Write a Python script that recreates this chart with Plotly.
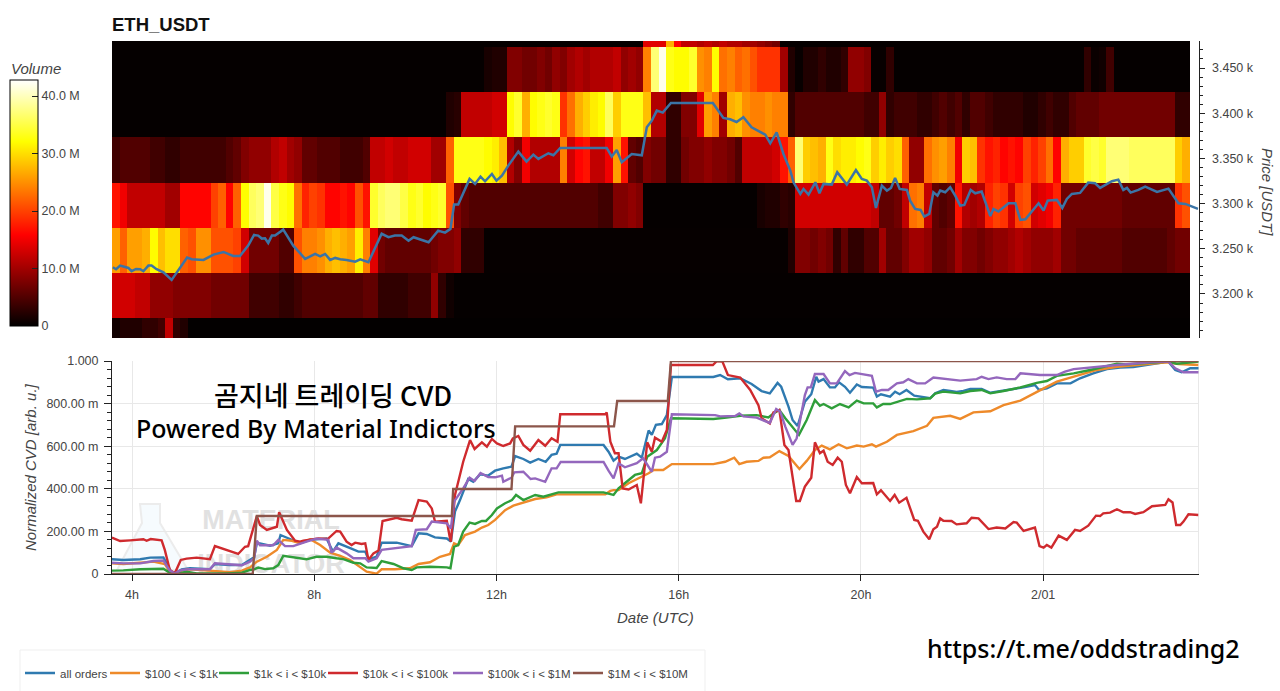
import plotly.graph_objects as go

FIG_W, FIG_H = 1280, 691

# ---- tick labels ----
date_tick_hours = [4, 8, 12, 16, 20, 24]
date_tick_labels = ["4h", "8h", "12h", "16h", "20h", "2/01"]
price_ticks = [3200, 3250, 3300, 3350, 3400, 3450]
price_tick_labels = ["3.200 k", "3.250 k", "3.300 k", "3.350 k", "3.400 k", "3.450 k"]
cvd_ticks = [0, 0.2, 0.4, 0.6, 0.8, 1.0]
cvd_tick_labels = ["0", "200.00 m", "400.00 m", "600.00 m", "800.00 m", "1.000"]
vol_ticks = [0, 10, 20, 30, 40]
vol_tick_labels = ["0", "10.0 M", "20.0 M", "30.0 M", "40.0 M"]

# ---- volume heat-map rows (millions), 10-minute columns ----
price_bins = [3150, 3200, 3250, 3300, 3350, 3400, 3450, 3500]
vol_3500 = [.3]*70 + [14,14,14,27,16,12,12,11,12,11,12,11,11,10,10,9,8,7] + [.3]*54
vol_3450 = [.3]*49 + [1.5,
  2,2,8,8,7,7,8,7,9,8,
  10,11,10,11,11,11,12,9,10,9,
  24,37,42,33,32,32,34,25,24,32,
  23,24,22,23,21,19,19,19,10,2,
  .5,2,2,3,2,2,3,9,9,8,
  .5,.5,3] + [.3]*25 + [3,.6,1,4] + [.3]*10
vol_3400 = [.3]*44 + [2,2.5,12,12,12,12,
  13,13,32,34,27,32,33,34,33,19,
  23,27,29,31,32,36,29,33,33,33,
  28,11,11,3,3,8,8,14,26,24,
  10,27,28,25,24,24,25,24,24,3,
  5,5,5,5,5,5,5,5,5,4,
  4,9,3,4,4,4,3,3,4,5,
  4,5,3,5,5,4,3,3,3,3,
  2,2,3,4,3,3,5,6,6,6,
  7,7,7,7,7,7,7,7,7,7,
  3,3]
vol_3350 = [4,5,5,5,5,4,4,3,3,4,
  4,4,4,4,4,5,6,8,9,9,
  9,11,12,10,9,6,6,5,5,5,
  4,4,4,5,12,12,13,12,12,13,
  13,13,10,10,22,33,33,33,33,32,
  31,28,11,8,15,11,11,11,11,24,
  13,16,17,12,12,15,26,17,6,5,
  8,7,7,3,3,7,8,8,9,8,
  8,7,5,12,12,12,12,13,17,22,
  37,29,28,27,33,30,31,31,32,33,
  29,31,29,30,22,9,9,23,25,26,
  24,15,29,28,19,17,18,16,17,16,
  20,18,20,23,16,27,29,29,34,35,
  34,37,37,37,36,36,36,36,36,36,
  29,27]
vol_3300 = [17,15,12,12,12,12,12,10,10,16,
  16,16,16,20,22,16,22,32,36,37,
  42,35,33,32,23,18,20,19,16,16,
  17,16,21,17,34,36,37,37,35,33,
  34,32,33,34,21,8,6,5,5,5,
  5,5,5,5,5,5,5,5,5,5,
  5,5,5,5,4,4,8,8,9,8,
  .3,.3,.3,.3,.3,.3,.3,.3,.3,.3,
  .3,.3,.3,.3,.3,1.5,2,2,3,2.5,
  13,13,13,13,13,13,13,13,13,13,
  12,6,6,7,12,23,24,12,6,5,
  6,17,11,10,11,18,20,19,13,20,
  21,13,14,15,18,7,7,7,7,7,
  7,7,7,6,6,6,6,6,6,6,
  19,21]
vol_3250 = [26,22,26,26,27,32,28,30,30,22,
  21,25,25,21,21,21,20,13,7,7,
  7,7,5,5,21,24,24,25,27,28,
  27,26,31,24,14,7,6,6,6,6,
  6,6,7,8,8,9,3,3,3,.4] + [.4]*39 + [2,
  8,8,7,8,7,3,6,3,3,5,
  5,10,6,6,8,10,10,9,6,6,
  7,10,8,8,7,8,9,9,10,11,
  10,9,9,9,10,7,7,6,6,6,
  6,6,6,5,5,5,5,5,5,6,
  7,7]
vol_3200 = [13,13,13,12,12,9,9,9,8,8,
  8,8,8,7,7,7,7,7,4,4,
  4,4,3,3,4,5,5,5,5,5,
  5,5,5,6,6,3,3,3,3,4,
  4,4,9,3,1] + [.3]*97
vol_3150 = [1,2,2,2,3,3,4,12,3,2] + [.2]*132

# ---- price line ----
price_hours = [3.58,3.65,3.74,3.92,3.99,4.09,4.18,4.25,4.36,4.43,4.54,4.69,4.87,5.02,5.21,5.31,5.57,5.79,6.01,6.22,6.37,6.55,6.68,6.77,6.85,6.92,6.99,7.07,7.14,7.32,7.54,7.80,8.02,8.13,8.24,8.35,8.46,8.57,8.71,8.90,9.01,9.19,9.33,9.48,9.63,9.77,9.92,10.07,10.18,10.51,
  10.72,10.87,10.99,11.07,11.16,11.41,11.53,11.65,11.75,11.90,12.0,12.12,12.26,12.48,12.66,12.81,12.92,13.14,13.25,13.40,14.42,14.53,14.64,14.75,14.97,15.19,15.30,15.41,15.52,15.65,15.83,16.75,16.98,17.13,17.27,17.42,17.60,17.79,17.90,18.01,18.15,18.30,18.45,18.52,18.67,18.74,18.85,19.0,19.09,19.18,19.36,19.48,19.69,19.89,
  20.02,20.13,20.24,20.33,20.46,20.57,20.66,20.75,20.85,21.01,21.08,21.19,21.31,21.39,21.50,21.59,21.68,21.74,21.85,21.96,22.07,22.18,22.27,22.41,22.51,22.65,22.84,22.91,23.02,23.24,23.39,23.50,23.61,23.90,24.01,24.10,24.30,24.42,24.52,24.63,24.81,24.99,25.14,25.25,25.51,25.65,25.76,25.84,25.92,26.09,26.24,26.50,26.75,26.97,27.12,27.40]
price_usdt = [3229.6,3227.4,3231.4,3228.8,3225.2,3227.7,3227.4,3225.2,3231.4,3231.4,3227.4,3224,3215.6,3225.9,3240.3,3238.4,3237.7,3243.6,3246.5,3242.1,3242.1,3253.5,3265.3,3264.6,3261.3,3261.7,3256.5,3264.6,3264.6,3271.2,3253.5,3238.8,3244.3,3241.7,3244.3,3237.7,3239.9,3238.4,3237.7,3235.8,3238.4,3235.1,3250.1,3266.6,3262.8,3264.6,3264.6,3259,3262.8,3257.2,
  3270.1,3267.9,3272,3298.9,3298.9,3327.3,3321.8,3329.9,3324.7,3332.8,3325.4,3331,3342,3357.5,3346.5,3354.2,3349.4,3355.7,3353.5,3361.6,3361.6,3352,3359.4,3345.7,3354.9,3353.5,3384.4,3391.8,3402.9,3400.7,3411.3,3411.3,3394.8,3393.3,3390.3,3395.5,3384.4,3378.9,3376.3,3366.7,3378.9,3354.9,3336.5,3323.6,3310.7,3316.2,3310,3323.6,3311.4,3321.8,3321,3334.7,3321,3337.2,
  3327.3,3325.4,3318.1,3295.2,3319.9,3314.4,3317.3,3328.4,3316.2,3315.1,3303.3,3294.1,3293,3285.6,3288.6,3312.5,3308.8,3314.4,3312.5,3318.1,3308.8,3297.8,3298.5,3315.1,3311.4,3313.3,3286.3,3294.1,3291.2,3300.4,3300.4,3281.9,3282.7,3300.4,3292.3,3303.3,3304.1,3295.2,3305.2,3310.7,3311.8,3323.2,3322.5,3317.3,3324.7,3326.5,3315.1,3317.3,3312.2,3315.1,3318.8,3312.9,3316.6,3300.4,3299.6,3294.1]

# ---- normalized CVD lines ----
all_hours = [3.56,3.81,4.18,4.40,4.69,4.80,4.87,4.94,5.09,5.27,5.71,5.82,6.15,6.41,6.59,6.68,6.74,6.81,7.03,7.21,7.26,7.47,7.69,7.91,8.27,8.41,8.53,8.79,8.97,9.12,9.19,9.37,9.48,9.81,10.14,10.29,10.47,10.65,10.91,11.0,11.09,11.20,11.38,11.49,11.64,11.82,11.97,12.15,12.33,12.41,12.59,12.74,12.92,13.08,13.21,13.32,13.40,14.35,14.46,14.57,14.68,14.82,15.08,15.19,15.34,15.41,15.50,15.63,15.74,15.85,16.76,16.91,17.08,17.35,17.60,17.82,18.0,18.17,18.25,18.41,18.50,18.61,18.77,18.91,19.02,19.07,19.18,19.32,19.43,19.52,19.65,19.76,19.91,20.02,20.27,20.35,20.44,20.64,20.75,20.85,21.0,21.17,21.30,21.52,21.63,21.81,21.96,22.1,22.25,22.40,22.65,22.84,23.57,23.82,23.91,24.08,24.3,24.6,24.81,25.10,25.40,25.69,25.98,26.35,26.75,26.90,27.04,27.23,27.42]
all_vals = [.069,.066,.069,.077,.078,.034,.006,.003,.022,.027,.022,.047,.042,.042,.066,.078,.144,.144,.133,.144,.183,.163,.144,.160,.167,.105,.144,.121,.105,.105,.069,.081,.147,.147,.131,.191,.188,.172,.167,.152,.293,.347,.446,.433,.468,.462,.485,.496,.504,.554,.540,.523,.540,.527,.559,.565,.606,.606,.574,.532,.551,.540,.565,.546,.674,.653,.700,.704,.746,.925,.925,.934,.914,.919,.892,.859,.848,.897,.879,.786,.723,.695,.809,.844,.926,.903,.915,.876,.876,.900,.879,.851,.890,.878,.875,.833,.844,.833,.856,.844,.864,.837,.833,.825,.848,.864,.859,.855,.860,.869,.869,.851,.876,.887,.864,.872,.895,.895,.919,.942,.962,.969,.972,.984,.997,.958,.947,.966,.966]

orange_hours = [3.56,3.81,4.18,4.47,4.72,4.83,4.94,5.09,5.27,5.71,6.15,6.41,6.59,6.74,6.96,7.18,7.32,7.51,7.69,7.91,8.13,8.35,8.57,8.79,8.97,9.15,9.37,9.48,9.77,10.10,10.29,10.54,10.76,10.98,11.07,11.16,11.31,11.53,11.68,11.82,11.97,12.19,12.37,12.66,12.85,13.10,13.32,14.39,14.50,14.57,14.68,14.90,15.15,15.34,15.45,15.66,15.85,16.76,17.02,17.22,17.33,17.49,17.75,17.86,18.0,18.21,18.41,18.65,18.81,18.99,19.14,19.32,19.51,19.69,19.91,20.06,20.24,20.33,20.57,20.79,21.15,21.45,21.59,21.96,22.18,22.47,22.84,23.13,23.50,23.79,23.97,24.30,24.74,25.18,25.62,26.06,26.72,26.97,27.41]
orange_vals = [.050,.047,.053,.058,.047,.011,.002,.016,.022,.016,.009,.016,.031,.058,.081,.113,.160,.156,.144,.163,.136,.100,.085,.066,.038,.011,.002,.022,.022,.027,.047,.055,.081,.094,.144,.136,.183,.199,.218,.230,.254,.300,.321,.340,.352,.360,.374,.374,.390,.394,.394,.426,.452,.473,.488,.488,.516,.516,.527,.546,.516,.527,.531,.546,.548,.577,.554,.493,.531,.582,.603,.585,.609,.590,.603,.598,.609,.598,.621,.653,.671,.696,.733,.743,.728,.759,.764,.793,.814,.848,.867,.903,.930,.958,.973,.981,.994,.986,.981]

green_hours = [3.56,3.81,4.18,4.69,4.83,4.98,5.20,5.42,6.08,6.41,6.59,6.68,6.77,6.92,7.10,7.21,7.32,7.62,7.83,8.05,8.27,8.49,8.64,8.86,9.01,9.15,9.37,9.48,9.74,9.96,10.14,10.25,10.54,10.91,10.99,11.07,11.16,11.27,11.41,11.53,11.68,11.77,11.90,12.01,12.19,12.34,12.43,12.59,12.85,13.03,13.21,13.36,14.35,14.57,14.68,14.86,15.04,15.19,15.31,15.52,15.70,15.83,16.76,17.05,17.35,17.71,17.97,18.08,18.21,18.34,18.64,18.81,18.99,19.10,19.18,19.36,19.54,19.73,19.91,20.06,20.27,20.35,20.49,20.64,20.79,21.01,21.23,21.52,21.63,21.81,22.18,22.40,22.65,22.84,23.13,23.50,23.86,24.08,24.30,24.67,25.03,25.40,25.62,25.84,26.28,26.75,26.93,27.42]
green_vals = [.016,.017,.022,.025,.006,.002,.011,.003,.003,.006,.019,.022,.030,.023,.027,.042,.085,.074,.069,.081,.081,.074,.070,.053,.050,.031,.028,.061,.047,.027,.019,.031,.034,.031,.027,.128,.136,.199,.241,.235,.249,.249,.277,.308,.332,.347,.371,.347,.371,.363,.374,.383,.383,.371,.402,.433,.465,.473,.551,.582,.637,.731,.728,.734,.743,.746,.735,.754,.770,.731,.653,.723,.817,.790,.798,.778,.798,.782,.814,.801,.801,.782,.798,.798,.809,.822,.820,.825,.847,.856,.848,.859,.864,.848,.859,.876,.897,.906,.930,.942,.958,.975,.987,.984,.989,.997,.987,.997]

red_hours = [3.56,3.74,3.96,4.25,4.32,4.41,4.65,4.72,4.83,4.94,5.07,5.20,5.42,5.71,5.82,6.08,6.33,6.48,6.55,6.74,6.81,6.96,7.18,7.23,7.40,7.58,7.69,7.76,7.91,8.09,8.30,8.49,8.57,8.71,8.82,8.90,9.04,9.12,9.19,9.30,9.41,9.50,9.81,9.92,10.14,10.29,10.47,10.58,10.65,10.91,10.98,11.0,11.09,11.27,11.42,11.52,11.68,11.79,11.90,12.01,12.15,12.30,12.36,12.48,12.59,12.74,12.92,13.07,13.21,13.34,13.40,14.39,14.42,14.50,14.60,14.68,14.77,14.90,15.08,15.17,15.31,15.41,15.48,15.63,15.74,15.83,16.75,16.84,16.96,17.08,17.35,17.57,17.75,17.82,18.0,18.08,18.21,18.32,18.41,18.58,18.66,18.77,18.91,18.99,19.10,19.18,19.27,19.38,19.49,19.58,19.67,19.76,19.91,20.02,20.27,20.35,20.44,20.64,20.74,20.84,21.0,21.17,21.25,21.37,21.50,21.59,21.67,21.74,21.81,21.99,22.10,22.32,22.43,22.58,22.80,22.98,23.17,23.35,23.42,23.57,23.82,23.92,24.01,24.08,24.18,24.34,24.52,24.70,24.81,24.99,25.16,25.25,25.32,25.47,25.62,25.76,25.91,26.02,26.20,26.39,26.68,26.75,26.84,26.92,27.01,27.08,27.19,27.41]
red_vals = [.171,.155,.158,.163,.156,.164,.158,.113,.019,.003,.066,.072,.077,.069,.131,.113,.094,.128,.131,.272,.230,.207,.222,.290,.207,.156,.152,.156,.160,.167,.165,.202,.199,.152,.136,.147,.141,.144,.066,.097,.110,.249,.264,.257,.250,.347,.340,.308,.246,.250,.167,.152,.371,.527,.629,.587,.618,.598,.634,.613,.601,.613,.637,.648,.606,.579,.629,.602,.637,.621,.750,.750,.759,.621,.567,.567,.402,.397,.418,.332,.618,.574,.640,.621,.676,.981,.981,1.0,.997,.934,.922,.864,.793,.731,.707,.759,.770,.606,.582,.343,.343,.410,.452,.618,.567,.579,.527,.512,.546,.527,.418,.379,.455,.426,.427,.374,.393,.343,.371,.335,.358,.254,.250,.199,.163,.210,.222,.261,.250,.249,.233,.238,.264,.261,.211,.218,.214,.244,.241,.202,.218,.131,.124,.136,.124,.180,.160,.207,.202,.227,.274,.272,.285,.288,.304,.290,.290,.282,.290,.318,.324,.351,.336,.230,.230,.246,.280,.277]

purple_hours = [3.56,3.81,4.18,4.47,4.69,4.83,4.94,5.09,5.27,5.71,5.82,6.08,6.41,6.59,6.68,6.74,6.81,7.10,7.21,7.36,7.54,7.83,8.05,8.31,8.38,8.49,8.71,8.86,9.12,9.19,9.37,9.48,10.14,10.23,10.47,10.58,10.91,11.0,11.07,11.27,11.41,11.52,11.65,11.82,11.97,12.12,12.15,12.33,12.39,12.59,12.75,12.85,13.07,13.21,13.32,13.41,14.35,14.46,14.57,14.68,14.82,15.08,15.22,15.41,15.48,15.59,15.74,15.85,16.80,16.91,17.24,17.33,17.42,17.71,18.0,18.14,18.23,18.34,18.50,18.59,18.77,18.83,18.90,18.99,19.18,19.32,19.47,19.65,19.75,19.87,20.06,20.24,20.33,20.46,20.60,20.79,20.93,21.04,21.23,21.41,21.59,21.96,22.18,22.54,22.65,22.80,22.98,23.20,23.39,23.50,23.93,24.30,24.48,24.67,25.03,25.32,25.62,26.35,26.75,26.90,27.08,27.42]
purple_vals = [.053,.050,.050,.061,.063,.016,.003,.019,.023,.022,.050,.045,.041,.058,.074,.156,.135,.135,.160,.131,.131,.152,.166,.160,.100,.124,.097,.074,.074,.058,.074,.113,.131,.207,.210,.246,.238,.214,.340,.402,.452,.437,.474,.455,.454,.462,.433,.452,.477,.480,.446,.449,.433,.496,.496,.526,.526,.485,.449,.520,.501,.520,.543,.480,.546,.551,.574,.750,.746,.740,.742,.754,.740,.734,.709,.775,.762,.692,.606,.637,.840,.876,.876,.939,.939,.895,.895,.953,.934,.944,.939,.931,.856,.864,.864,.895,.900,.915,.895,.895,.922,.915,.908,.915,.926,.915,.923,.915,.915,.942,.934,.934,.950,.962,.970,.973,.981,.994,.997,.966,.947,.947]

brown_hours = [3.56,6.65,6.74,11.02,11.05,12.33,12.41,14.58,14.65,15.76,15.83,27.41]
brown_vals = [0,0,.272,.272,.399,.399,.693,.693,.812,.812,1.0,1.0]

series = [
    ("all orders", all_hours, all_vals, "#2f7ab0"),
    ("$100 < i < $1k", orange_hours, orange_vals, "#ee8a2a"),
    ("$1k < i < $10k", green_hours, green_vals, "#2f9e3a"),
    ("$10k < i < $100k", red_hours, red_vals, "#cf2a2e"),
    ("$100k < i < $1M", purple_hours, purple_vals, "#9467bd"),
    ("$1M < i < $10M", brown_hours, brown_vals, "#8c564b"),
]
legend_text_starts = [60, 145, 254, 363, 488, 608]

# ---- layout helpers (pixel geometry of the page) ----
def px(x): return x / FIG_W
def py(y): return 1 - y / FIG_H

HOUR_RANGE = [3.561, 27.41]
TICK = "#444444"
FONT = "Liberation Sans"

fig = go.Figure()
fig.add_trace(go.Heatmap(
    z=[vol_3150, vol_3200, vol_3250, vol_3300, vol_3350, vol_3400, vol_3450, vol_3500],
    x0=3.561 + 1 / 12, dx=1 / 6, y=[b - 1.5 for b in price_bins],
    xaxis="x2", yaxis="y2", zmin=0, zmax=42.8, hoverinfo="skip",
    colorscale=[[0, "#000000"], [0.37, "#ff0000"], [0.75, "#ffff00"], [1, "#ffffff"]],
    colorbar=dict(
        thicknessmode="pixels", thickness=28, lenmode="pixels", len=246,
        x=px(10), xanchor="left", xpad=0, y=py(326), yanchor="bottom", ypad=0,
        outlinecolor="black", outlinewidth=1, tickmode="array",
        tickvals=vol_ticks, ticktext=vol_tick_labels, ticks="inside", ticklen=6,
        tickcolor="#222", tickfont=dict(family=FONT, size=12.5, color=TICK),
    ),
))
fig.add_trace(go.Scatter(x=price_hours, y=price_usdt, mode="lines", xaxis="x2", yaxis="y2",
                         line=dict(color="#3b74a6", width=2.5), showlegend=False))
fig.add_trace(go.Scatter(x=[7.05, 7.05], y=[.244, .035], mode="text", text=["MATERIAL", "INDICATOR"],
                         textposition="middle center", showlegend=False, hoverinfo="skip",
                         textfont=dict(family=FONT, size=27, color="#e1e1e1", weight="bold")))
legend_layouts = {}
for i, (name, h, v, c) in enumerate(series):
    key = "legend" if i == 0 else f"legend{i + 1}"
    fig.add_trace(go.Scatter(x=h, y=v, mode="lines", name=name, legend=key, line=dict(color=c, width=2.4)))
    legend_layouts[key] = dict(x=px(legend_text_starts[i] - 40), xanchor="left", y=py(673), yanchor="middle",
                               font=dict(family=FONT, size=11.5, color=TICK), bgcolor="rgba(0,0,0,0)", itemwidth=30)

axis_font = dict(family=FONT, size=12.5, color=TICK)
fig.update_layout(
    width=FIG_W, height=FIG_H, margin=dict(l=0, r=0, t=0, b=0, autoexpand=False),
    paper_bgcolor="white", plot_bgcolor="white", font=dict(family=FONT),
    xaxis=dict(domain=[px(112), px(1198.5)], range=HOUR_RANGE, anchor="y", tickmode="array",
               tickvals=date_tick_hours, ticktext=date_tick_labels, ticks="outside", ticklen=6,
               tickcolor="#222", showline=True, linecolor="#222", linewidth=1, gridcolor="#e8e8e8",
               gridwidth=1, tickfont=axis_font, zeroline=False, ticklabelstandoff=3),
    yaxis=dict(domain=[py(574), py(361)], range=[0, 1], anchor="x", tickmode="array",
               tickvals=cvd_ticks, ticktext=cvd_tick_labels, ticks="outside", ticklen=7, tickcolor="#222",
               showline=True, linecolor="#222", linewidth=1, gridcolor="#e8e8e8", tickfont=axis_font,
               zeroline=False, ticklabelstandoff=3,
               minor=dict(dtick=0.04, tick0=0, ticks="outside", ticklen=4, tickcolor="#222", showgrid=False)),
    xaxis2=dict(domain=[px(112), px(1198.5)], range=HOUR_RANGE, anchor="y2", visible=False),
    yaxis2=dict(domain=[py(338), py(41)], range=[3151.3, 3479.9], anchor="x2", side="right", tickmode="array",
                tickvals=price_ticks, ticktext=price_tick_labels, ticks="outside", ticklen=5, tickcolor="#222",
                showline=True, linecolor="#222", linewidth=1, showgrid=False, tickfont=axis_font, zeroline=False,
                ticklabelstandoff=5,
                minor=dict(dtick=10, tick0=3150, ticks="outside", ticklen=3, tickcolor="#222")),
    showlegend=True,
    shapes=[
        dict(type="rect", xref="paper", yref="paper", x0=px(20), x1=px(705), y0=py(692), y1=py(650),
             line=dict(color="#efefef", width=1), layer="below"),
        dict(type="line", xref="paper", yref="paper", x0=px(1198.5), x1=px(1198.5), y0=py(574), y1=py(361),
             line=dict(color="#e8e8e8", width=1), layer="below"),
        dict(type="path", xref="paper", yref="paper", layer="below", line=dict(color="#ececec", width=2),
             fillcolor="rgba(220,240,250,0.25)",
             path=f"M {px(140)} {py(504)} L {px(160)} {py(504)} L {px(160)} {py(523)} L {px(188)} {py(570)} "
                  f"L {px(117)} {py(570)} L {px(142)} {py(523)} Z"),
    ],
    annotations=[
        dict(text="<b>ETH_USDT</b>", xref="paper", yref="paper", x=px(110), y=py(24.5), xanchor="left", yanchor="middle",
             showarrow=False, font=dict(family=FONT, size=18.5, color="#111")),
        dict(text="<i>Volume</i>", xref="paper", yref="paper", x=px(8.5), y=py(68), xanchor="left", yanchor="middle",
             showarrow=False, font=dict(family=FONT, size=15, color=TICK)),
        dict(text="<i>Price [USDT]</i>", xref="paper", yref="paper", x=px(1268), y=py(192), textangle=90,
             xanchor="center", yanchor="middle", showarrow=False, font=dict(family=FONT, size=15, color=TICK)),
        dict(text="<i>Normalized CVD [arb. u.]</i>", xref="paper", yref="paper", x=px(31), y=py(467), textangle=-90,
             xanchor="center", yanchor="middle", showarrow=False, font=dict(family=FONT, size=15, color=TICK)),
        dict(text="<i>Date (UTC)</i>", xref="paper", yref="paper", x=px(655.5), y=py(617), xanchor="center",
             yanchor="middle", showarrow=False, font=dict(family=FONT, size=15, color=TICK)),
        dict(text="곰지네 트레이딩 CVD", xref="paper", yref="paper", x=px(333), y=py(394), xanchor="center",
             yanchor="middle", showarrow=False, font=dict(family="Noto Sans CJK KR", size=27, color="black", weight=500)),
        dict(text="Powered By Material Indictors", xref="paper", yref="paper", x=px(316), y=py(428), xanchor="center",
             yanchor="middle", showarrow=False, font=dict(family="Noto Sans", size=25, color="black", weight=500)),
        dict(text="https://t.me/oddstrading2", xref="paper", yref="paper", x=px(1083.5), y=py(648), xanchor="center",
             yanchor="middle", showarrow=False, font=dict(family="Noto Sans", size=25, color="black", weight=500)),
    ],
    **legend_layouts,
)
fig.write_html("out.html", config={"displayModeBar": False},
               post_script="document.body.style.margin='0';document.body.style.overflow='hidden';")
